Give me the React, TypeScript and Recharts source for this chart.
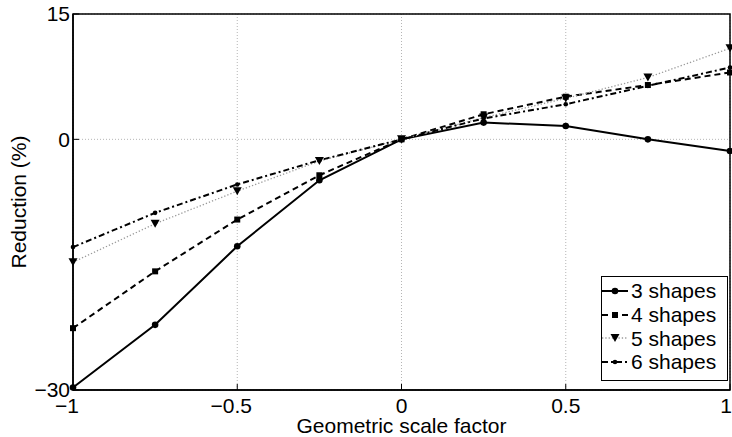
import {
  CartesianGrid,
  Label,
  Legend,
  Line,
  LineChart,
  ReferenceArea,
  XAxis,
  YAxis,
} from "recharts";

const xValues = [-1, -0.75, -0.5, -0.25, 0, 0.25, 0.5, 0.75, 1];
const shapes3 = [-29.7, -22.2, -12.8, -4.9, 0, 2.0, 1.6, 0, -1.4];
const shapes4 = [-22.6, -15.8, -9.6, -4.3, 0, 3.0, 5.1, 6.5, 8.0];
const shapes5 = [-14.7, -10.1, -6.2, -2.6, 0, 2.6, 4.9, 7.4, 10.9];
const shapes6 = [-12.9, -8.8, -5.4, -2.5, 0, 2.5, 4.2, 6.4, 8.6];

const xTicks = [-1, -0.5, 0, 0.5, 1];
const yTicks = [-30, 0, 15];

const data = xValues.map((x, i) => ({
  x,
  s3: shapes3[i],
  s4: shapes4[i],
  s5: shapes5[i],
  s6: shapes6[i],
}));

const FONT = '"Liberation Sans", Arial, sans-serif';

const fmt = (v: number) => (v < 0 ? `\u2212${Math.abs(v)}` : `${v}`);

type Marker = "circle" | "square" | "triangle" | "dot";

const drawMarker = (kind: Marker, cx: number, cy: number, key?: string) => {
  if (kind === "square")
    return <rect key={key} x={cx - 3} y={cy - 3} width={6} height={6} fill="#000" />;
  if (kind === "triangle")
    return (
      <polygon
        key={key}
        points={`${cx - 4.5},${cy - 4} ${cx + 4.5},${cy - 4} ${cx},${cy + 4}`}
        fill="#000"
      />
    );
  if (kind === "dot") return <circle key={key} cx={cx} cy={cy} r={2.3} fill="#000" />;
  return <circle key={key} cx={cx} cy={cy} r={3.3} fill="#000" />;
};

const series = [
  { key: "s3", name: "3 shapes", stroke: "#000", width: 2, dash: undefined, marker: "circle" as Marker },
  { key: "s4", name: "4 shapes", stroke: "#000", width: 2, dash: "6 4", marker: "square" as Marker },
  { key: "s5", name: "5 shapes", stroke: "#9a9a9a", width: 1.3, dash: "1.3 2", marker: "triangle" as Marker },
  { key: "s6", name: "6 shapes", stroke: "#000", width: 2, dash: "6 3 2 3", marker: "dot" as Marker },
];

// matlab-ish tick: negative numbers centred on the digits, last one kept inside
const XTick = (props: any) => {
  const { x, y, payload } = props;
  const v = payload.value as number;
  let anchor = "middle";
  let dx = v < 0 ? -6 : 0;
  if (v === 1) {
    anchor = "end";
    dx = 2;
  }
  return (
    <text x={x + dx} y={y} dy="0.71em" textAnchor={anchor} fill="#000" fontSize={21}>
      {fmt(v)}
    </text>
  );
};

const LegendBox = () => (
  <div
    style={{
      width: 127,
      height: 105,
      boxSizing: "border-box",
      border: "1.5px solid #000",
      background: "#fff",
      paddingTop: 2,
      fontFamily: FONT,
      fontSize: 21,
      color: "#000",
    }}
  >
    {series.map((s) => (
      <div key={s.key} style={{ height: 23.7, display: "flex", alignItems: "center" }}>
        <svg width={28} height={12} style={{ marginRight: 1 }}>
          <line x1={0} y1={6} x2={26} y2={6} stroke={s.stroke} strokeWidth={s.width} strokeDasharray={s.dash} />
          {drawMarker(s.marker, 13, 6)}
        </svg>
        <span style={{ lineHeight: "23px" }}>{s.name}</span>
      </div>
    ))}
  </div>
);

const App = () => {
  return (
    <div style={{ position: "absolute", left: 0, top: 0, background: "#fff" }}>
      <LineChart
        width={732}
        height={437}
        data={data}
        margin={{ top: 14, right: 2, left: 0, bottom: 0 }}
        style={{ fontFamily: FONT }}
      >
        <CartesianGrid stroke="#b5b5b5" strokeDasharray="1 2" />
        <XAxis
          dataKey="x"
          type="number"
          domain={[-1, 1]}
          ticks={xTicks}
          interval={0}
          height={47}
          tickSize={-6}
          tickMargin={14}
          axisLine={{ stroke: "#000", strokeWidth: 1.5 }}
          tickLine={{ stroke: "#000" }}
          tick={<XTick />}
        >
          <Label
            value="Geometric scale factor"
            position="insideBottom"
            offset={4}
            style={{ fill: "#000", fontSize: 21 }}
          />
        </XAxis>
        <XAxis
          xAxisId="top"
          orientation="top"
          type="number"
          domain={[-1, 1]}
          ticks={xTicks}
          interval={0}
          height={0}
          tickSize={-6}
          tickFormatter={() => ""}
          axisLine={false}
          tickLine={{ stroke: "#000" }}
        />
        <YAxis
          type="number"
          domain={[-30, 15]}
          ticks={yTicks}
          interval={0}
          tickFormatter={fmt}
          width={73}
          tickSize={-6}
          tickMargin={9}
          axisLine={{ stroke: "#000", strokeWidth: 1.5 }}
          tickLine={{ stroke: "#000" }}
          tick={{ fill: "#000", fontSize: 21 }}
        >
          <Label
            value="Reduction (%)"
            angle={-90}
            position="insideLeft"
            offset={19}
            style={{ fill: "#000", fontSize: 21, textAnchor: "middle" }}
          />
        </YAxis>
        <YAxis
          yAxisId="right"
          orientation="right"
          type="number"
          domain={[-30, 15]}
          ticks={yTicks}
          interval={0}
          width={0}
          tickSize={-6}
          tickFormatter={() => ""}
          axisLine={false}
          tickLine={{ stroke: "#000" }}
        />
        <ReferenceArea x1={-1} x2={1} y1={-30} y2={15} fill="none" stroke="#000" strokeWidth={1.5} />
        {series.map((s) => (
          <Line
            key={s.key}
            dataKey={s.key}
            name={s.name}
            type="linear"
            stroke={s.stroke}
            strokeWidth={s.width}
            strokeDasharray={s.dash}
            isAnimationActive={false}
            dot={(p: any) => drawMarker(s.marker, p.cx, p.cy, `${s.key}-${p.index}`)}
            activeDot={false}
          />
        ))}
        <Legend
          layout="vertical"
          align="center"
          verticalAlign="middle"
          content={() => <LegendBox />}
          wrapperStyle={{ left: 601, top: 276, width: 127, height: 105 }}
        />
      </LineChart>
    </div>
  );
};

export default App;
